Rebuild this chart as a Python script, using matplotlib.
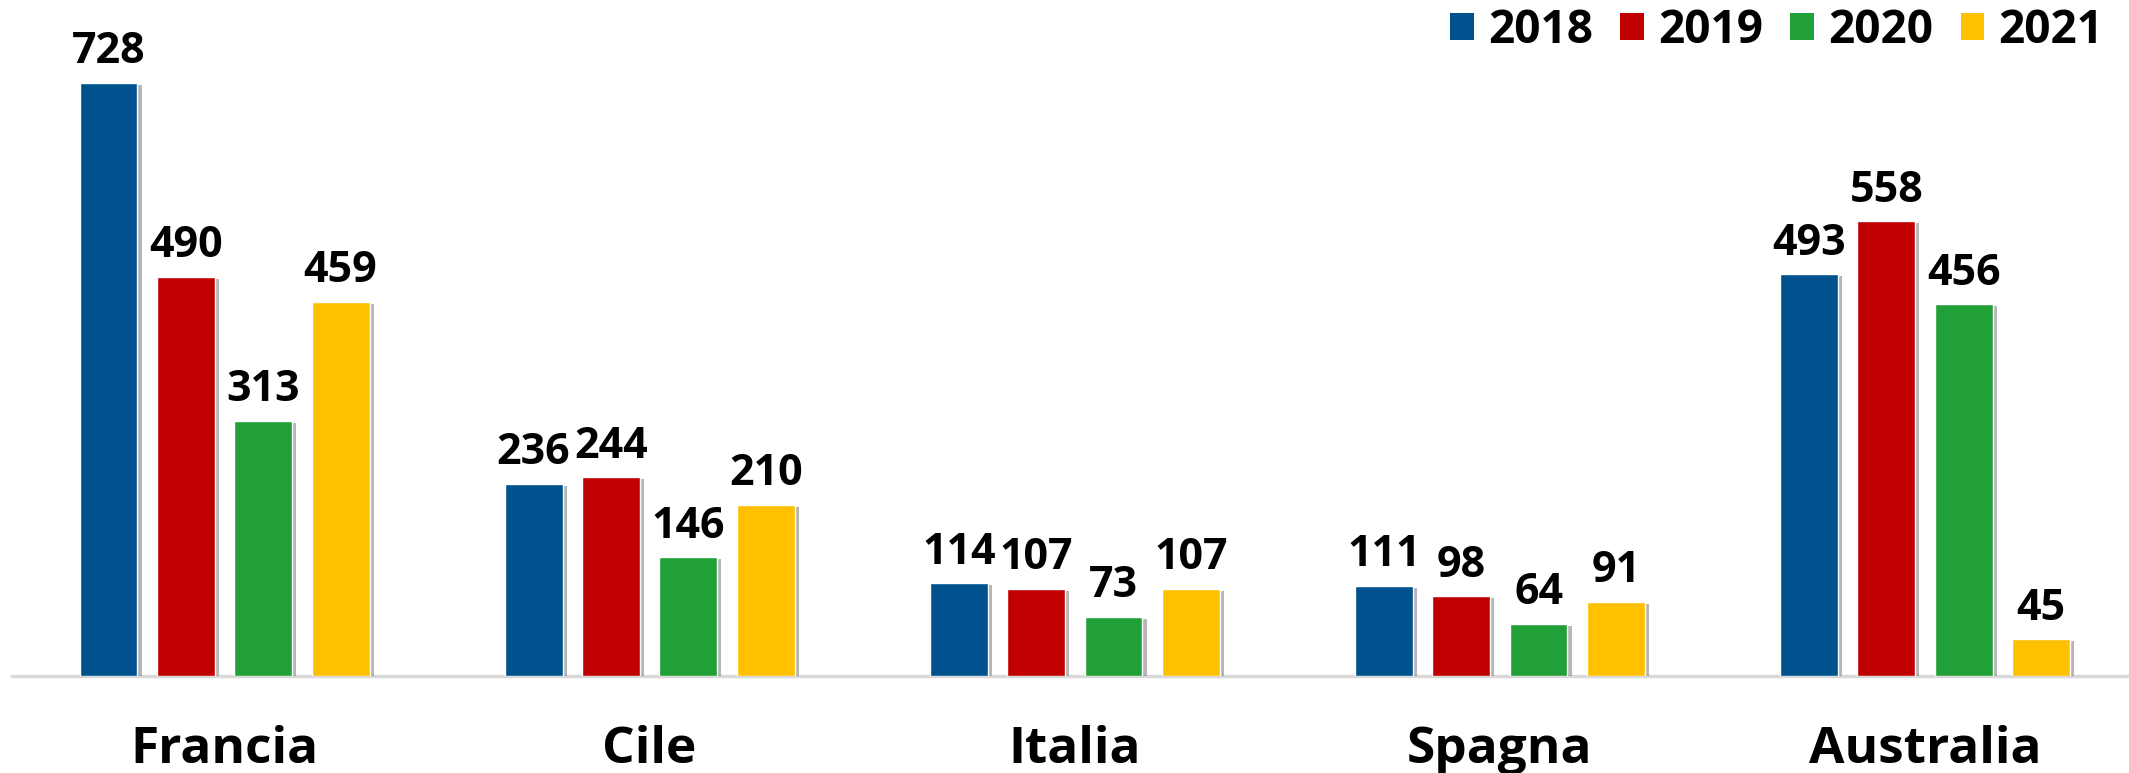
import matplotlib
matplotlib.use("Agg")
import matplotlib.pyplot as plt
import matplotlib.patheffects as pe
from matplotlib.patches import Patch
import numpy as np

countries = ["Francia", "Cile", "Italia", "Spagna", "Australia"]
years = ["2018", "2019", "2020", "2021"]
v2018 = [728, 236, 114, 111, 493]
v2019 = [490, 244, 107, 98, 558]
v2020 = [313, 146, 73, 64, 456]
v2021 = [459, 210, 107, 91, 45]
series = [v2018, v2019, v2020, v2021]
colors = ["#00528f", "#c00000", "#21a038", "#ffc000"]

LBL_FONT = "Open Sans"

fig = plt.figure(figsize=(21.29, 7.73), dpi=100)
ax = fig.add_axes([12 / 2129, 97 / 773, 1 - 12 / 2129, 652 / 773])

x = np.arange(len(countries))
w = 0.136
step = 0.182
shadow = [pe.SimplePatchShadow(offset=(3, -1.5), shadow_rgbFace="#7a7a7a", alpha=0.55), pe.Normal()]

for i, (vals, col) in enumerate(zip(series, colors)):
    pos = x + (i - 1.5) * step
    bars = ax.bar(pos, vals, w, color=col, edgecolor="white", linewidth=1.0, zorder=3)
    for b in bars:
        b.set_path_effects(shadow)
    for xp, v in zip(pos, vals):
        ax.annotate(f"{v}", (xp, v), xytext=(0, 14), textcoords="offset points",
                    ha="center", va="baseline", fontsize=31, fontweight="bold",
                    family=LBL_FONT, annotation_clip=False)

ax.set_xlim(-0.5, 4.48)
ax.set_ylim(0, 800)
for s in ("top", "right", "left"):
    ax.spines[s].set_visible(False)
ax.spines["bottom"].set_color("#d9d9d9")
ax.spines["bottom"].set_linewidth(2.5)
ax.set_yticks([])
ax.set_xticks(x)
ax.set_xticklabels(countries, fontsize=37, fontweight="bold", family=LBL_FONT)
ax.tick_params(axis="x", length=0, pad=35)

# legend: condensed face in the original, so a smaller Open Sans to keep the width
handles = [Patch(facecolor=c, edgecolor="none") for c in colors]
fig.legend(handles, years, loc="upper right", bbox_to_anchor=(2110 / 2129, 1.0), ncol=4,
           frameon=False, prop={"family": LBL_FONT, "weight": "bold", "size": 33},
           handlelength=0.52, handleheight=0.52, handletextpad=0.3, columnspacing=0.6,
           borderpad=0.0, borderaxespad=0.15)

fig.savefig("out.png", dpi=100)
